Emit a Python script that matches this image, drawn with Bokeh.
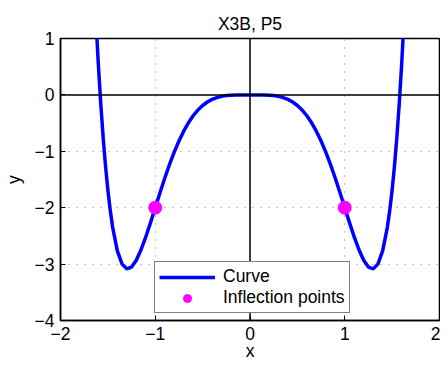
from bokeh.plotting import figure
from bokeh.models import Span, FixedTicker, Legend, LegendItem, Title
from bokeh.embed import file_html
from bokeh.resources import INLINE

# Curve samples
curve_x = [-1.65, -1.625, -1.6, -1.575, -1.55, -1.525, -1.5, -1.475, -1.45, -1.4, -1.35, -1.3,
           -1.25, -1.2, -1.15, -1.1, -1.05, -1.0, -0.95, -0.9, -0.85, -0.8, -0.75, -0.7,
           -0.65, -0.6, -0.55, -0.5, -0.45, -0.4, -0.35, -0.3, -0.25, -0.2, -0.15, -0.1,
           -0.05, 0.0, 0.05, 0.1, 0.15, 0.2, 0.25, 0.3, 0.35, 0.4, 0.45, 0.5, 0.55, 0.6,
           0.65, 0.7, 0.75, 0.8, 0.85, 0.9, 0.95, 1.0, 1.05, 1.1, 1.15, 1.2, 1.25, 1.3,
           1.35, 1.4, 1.45, 1.475, 1.5, 1.525, 1.55, 1.575, 1.6, 1.625, 1.65]
curve_y = [2.1989, 1.3074, 0.5243, -0.1590, -0.7504, -1.2575, -1.6875, -2.0472, -2.3429,
           -2.7660, -3.0004, -3.0846, -3.0518, -2.9307, -2.7459, -2.5183, -2.2649, -2.0,
           -1.7349, -1.4784, -1.2372, -1.0158, -0.8174, -0.6435, -0.4945, -0.3698, -0.2681,
           -0.1875, -0.1256, -0.0799, -0.0476, -0.0260, -0.0127, -0.0052, -0.0017, -0.0003,
           0.0, 0.0, 0.0, -0.0003, -0.0017, -0.0052, -0.0127, -0.0260, -0.0476, -0.0799,
           -0.1256, -0.1875, -0.2681, -0.3698, -0.4945, -0.6435, -0.8174, -1.0158, -1.2372,
           -1.4784, -1.7349, -2.0, -2.2649, -2.5183, -2.7459, -2.9307, -3.0518, -3.0846,
           -3.0004, -2.7660, -2.3429, -2.0472, -1.6875, -1.2575, -0.7504, -0.1590, 0.5243,
           1.3074, 2.1989]

# Inflection points
infl_x = [-1.0, 1.0]
infl_y = [-2.0, -2.0]

x_ticks = [-2, -1, 0, 1, 2]
y_ticks = [-4, -3, -2, -1, 0, 1]

def lab(v):
    return ("\u2212" + str(abs(v))) if v < 0 else str(v)

FONT = "Liberation Sans"
FS = "17.5px"

p = figure(width=440, height=363, x_range=(-2, 2), y_range=(-4, 1),
           output_backend="svg", toolbar_location=None,
           min_border_left=60, min_border_right=1, min_border_top=38, min_border_bottom=30,
           x_axis_label="x", y_axis_label="y")
p.title = Title(text="X3B, P5", align="center", text_font=FONT, text_font_size=FS,
                text_font_style="normal", text_color="black", standoff=9)

p.outline_line_color = "black"
p.outline_line_width = 1.5
p.background_fill_color = "white"
p.border_fill_color = "white"

for ax, ticks in ((p.xaxis[0], x_ticks), (p.yaxis[0], y_ticks)):
    ax.ticker = FixedTicker(ticks=ticks)
    ax.major_label_overrides = {t: lab(t) for t in ticks}
    ax.major_label_text_font = FONT
    ax.major_label_text_font_size = FS
    ax.major_label_text_color = "black"
    ax.axis_label_text_font = FONT
    ax.axis_label_text_font_size = FS
    ax.axis_label_text_font_style = "normal"
    ax.axis_label_text_color = "black"
    ax.axis_line_color = "black"
    ax.axis_line_width = 1.5
    ax.major_tick_in = 5
    ax.major_tick_out = 0
    ax.major_tick_line_color = "black"
    ax.minor_tick_line_color = None
    ax.major_label_standoff = 6

p.xaxis[0].axis_label_standoff = -2
p.yaxis[0].axis_label_standoff = 8

for g, ticks in ((p.xgrid[0], x_ticks), (p.ygrid[0], y_ticks)):
    g.ticker = FixedTicker(ticks=ticks)
    g.grid_line_color = "#808080"
    g.grid_line_dash = "1 7"
    g.grid_line_width = 1

p.add_layout(Span(location=0, dimension="width", line_color="black", line_width=1.5))
p.add_layout(Span(location=0, dimension="height", line_color="black", line_width=1.5))

r_curve = p.line(curve_x, curve_y, line_color="#0000ff", line_width=3.5)
r_pts = p.scatter(infl_x, infl_y, size=13, marker="circle", fill_color="#ff00ff",
                  line_color="#ff00ff")

legend = Legend(items=[LegendItem(label="Curve", renderers=[r_curve]),
                       LegendItem(label="Inflection points", renderers=[r_pts])],
                location=(94, 7), margin=0, padding=4, spacing=0,
                glyph_width=56, glyph_height=20, label_height=20, label_standoff=8,
                label_text_font=FONT, label_text_font_size=FS, label_text_color="black",
                border_line_color="black", border_line_width=1.5,
                background_fill_alpha=1.0)
p.add_layout(legend, "center")

open("out.html", "w").write(file_html(p, INLINE))
